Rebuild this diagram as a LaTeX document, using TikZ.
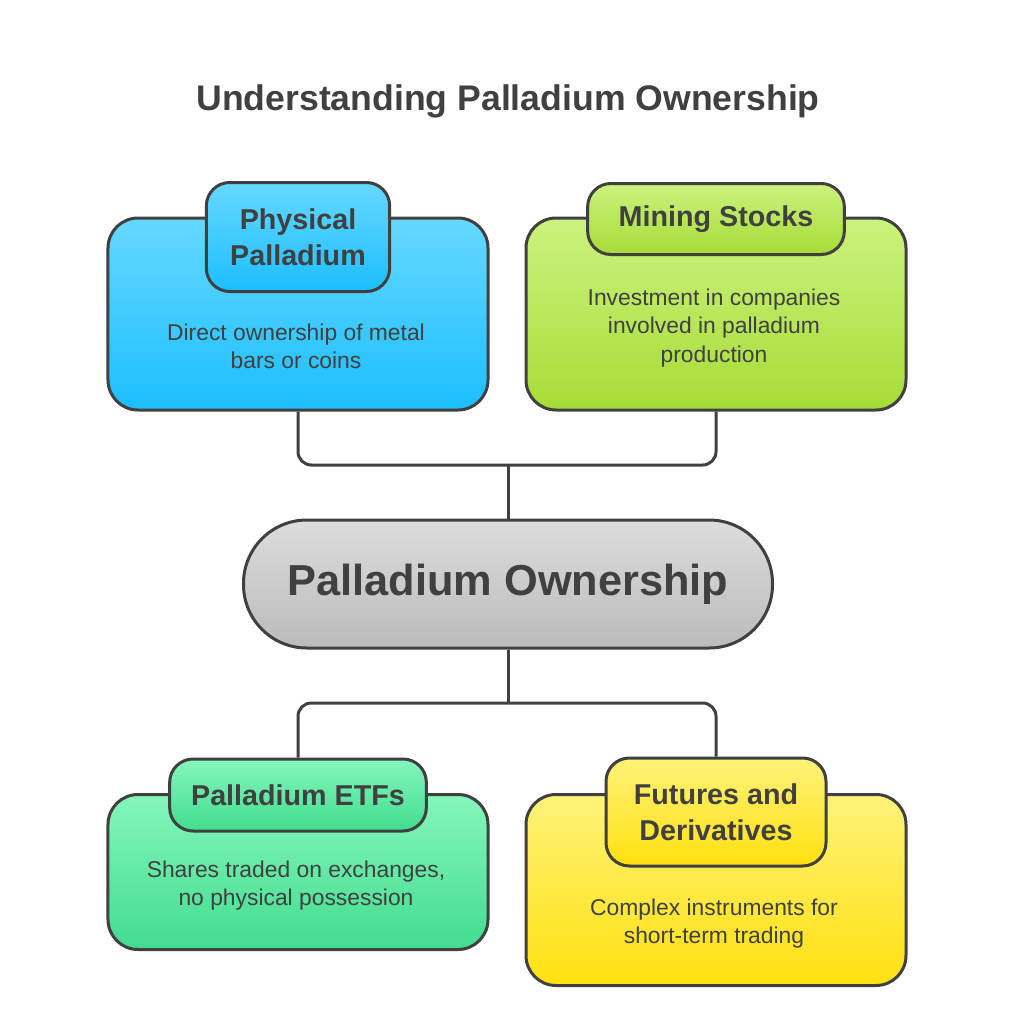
\documentclass[tikz,border=0pt]{standalone}
\usepackage{fontspec}
\setmainfont{Liberation Sans}
\usetikzlibrary{positioning}
\definecolor{ink}{HTML}{404040}
\definecolor{skytop}{HTML}{66D8FF}
\definecolor{skybot}{HTML}{1CBEFF}
\definecolor{limetop}{HTML}{CCF27F}
\definecolor{limebot}{HTML}{A6DC36}
\definecolor{minttop}{HTML}{85F6BC}
\definecolor{mintbot}{HTML}{42DC8E}
\definecolor{suntop}{HTML}{FFF27A}
\definecolor{sunbot}{HTML}{FFE00F}
\definecolor{greytop}{HTML}{DCDCDC}
\definecolor{greybot}{HTML}{BBBBBB}

\begin{document}
\begin{tikzpicture}[x=0.3mm, y=-0.3mm]
\tikzstyle{card} = [rectangle, rounded corners=9mm, draw=ink, line width=0.9mm, minimum width=114mm, inner sep=0pt]
\tikzstyle{tab} = [rectangle, rounded corners=7mm, draw=ink, line width=0.9mm, inner sep=0pt, align=center, text=ink, font=\fontsize{24.5}{31}\selectfont\bfseries]
\tikzstyle{desc} = [align=center, text=ink, font=\fontsize{19.5}{24}\selectfont]
\tikzstyle{link} = [draw=ink, line width=0.9mm, rounded corners=4mm]

\useasboundingbox (0,0) rectangle (1017,1024);

\node[text=ink, font=\fontsize{30.4}{34}\selectfont\bfseries] (title) at (508,101) {Understanding Palladium Ownership};

% upper branch
\node (phys) [card, minimum height=57.6mm, top color=skytop, bottom color=skybot] at (298,314) {};
\node (physhead) [tab, minimum width=55mm, minimum height=32.7mm, top color=skytop, bottom color=skybot] at (298,237) {Physical\\Palladium};
\node (physdesc) [desc] at (296,346) {Direct ownership of metal\\bars or coins};

\node (mine) [card, minimum height=57.6mm, top color=limetop, bottom color=limebot] at (716,314) {};
\node (minehead) [tab, minimum width=77mm, minimum height=21.3mm, top color=limetop, bottom color=limebot] at (716,219) {Mining Stocks};
\node (minedesc) [desc] at (714,328) {Investment in companies\\involved in palladium\\production};

% centre
\node (core) [rectangle, rounded corners=19mm, draw=ink, line width=0.9mm, minimum width=158.7mm, minimum height=38.4mm, top color=greytop, bottom color=greybot, text=ink, font=\fontsize{37}{40}\selectfont\bfseries] at (508,584) {Palladium Ownership};

% lower branch
\node (etf) [card, minimum height=46.5mm, top color=minttop, bottom color=mintbot] at (298,872) {};
\node (etfhead) [tab, minimum width=77mm, minimum height=21.6mm, top color=minttop, bottom color=mintbot] at (298,795) {Palladium ETFs};
\node (etfdesc) [desc] at (296,886) {Shares traded on exchanges,\\no physical possession};

\node (fut) [card, minimum height=57.3mm, top color=suntop, bottom color=sunbot] at (716,890) {};
\node (futhead) [tab, minimum width=66mm, minimum height=32.4mm, top color=suntop, bottom color=sunbot] at (716,812) {Futures and\\Derivatives};
\node (futdesc) [desc] at (714,924) {Complex instruments for\\short-term trading};

\coordinate (upjoin) at (508,465);
\coordinate (lowjoin) at (508,703);
\draw[link] (phys.south) |- (upjoin) -| (mine.south);
\draw[link] (upjoin) -- (core.north);
\draw[link] (core.south) -- (lowjoin);
\draw[link] (etfhead.north) |- (lowjoin) -| (futhead.north);
\end{tikzpicture}
\end{document}
